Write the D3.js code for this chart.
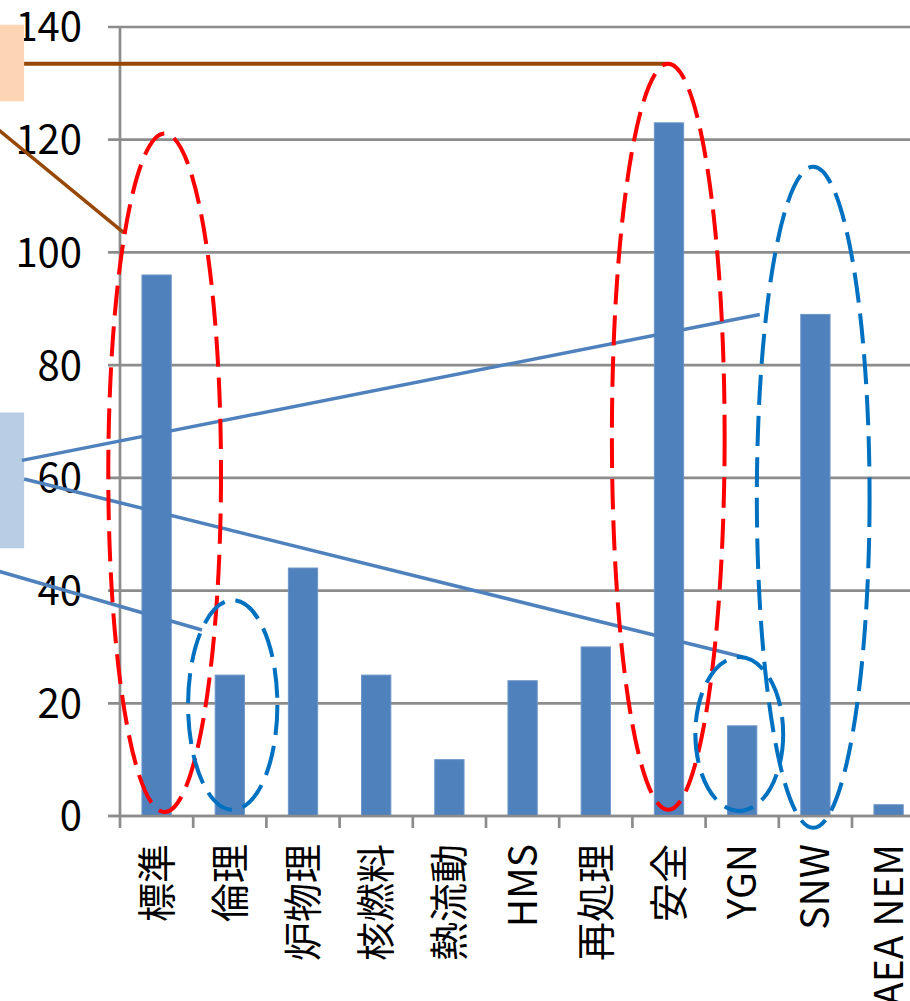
<!DOCTYPE html>
<html>
<head>
<meta charset="utf-8">
<script src="https://cdn.jsdelivr.net/npm/d3@7"></script>
<style>
  body { margin: 0; background: #fff; }
  text { font-family: "Noto Sans CJK JP", "Liberation Sans", sans-serif; }
</style>
</head>
<body>
<div id="chart"></div>
<script>
// categories and counts
var categories = ["標準", "倫理", "炉物理", "核燃料", "熱流動", "HMS", "再処理", "安全", "YGN", "SNW", "AEA NEM"];
var values = [96, 25, 44, 25, 10, 24, 30, 123, 16, 89, 2];
var yTicks = [0, 20, 40, 60, 80, 100, 120, 140];

// callout overlays, in (category index, value) units
var ellipses = [
    { cx: 0.61, top: 121.1, bottom: 0.7, rx: 0.77, color: "#FF0000" },
    { cx: 7.49, top: 133.5, bottom: 1.1, rx: 0.77, color: "#FF0000" },
    { cx: 1.54, top: 38.3, bottom: 1.1, rx: 0.61, color: "#0070C0" },
    { cx: 8.46, top: 28.2, bottom: 0.9, rx: 0.60, color: "#0070C0" },
    { cx: 9.47, top: 115.2, bottom: -2.1, rx: 0.77, color: "#0070C0" }
];
var boxes = [
    { x0: -1.7, x1: -1.31, top: 140.4, bottom: 126.8, color: "#FCD5B5" },
    { x0: -1.7, x1: -1.31, top: 71.6, bottom: 47.5, color: "#B9CDE5" }
];
var connectors = [
    { x0: -1.31, y0: 133.5, x1: 7.49, y1: 133.5, color: "#974806", w: 4 },
    { x0: -1.7, y0: 122.2, x1: 0.05, y1: 103.5, color: "#974806", w: 3.5 },
    { x0: -1.34, y0: 63.1, x1: 8.74, y1: 89.0, color: "#4F81BD", w: 3.5 },
    { x0: -1.31, y0: 59.8, x1: 8.51, y1: 28.2, color: "#4F81BD", w: 3.5 },
    { x0: -1.7, y0: 43.6, x1: 1.12, y1: 33.0, color: "#4F81BD", w: 3.5 }
];

var chartW = 910, chartH = 1001;
var plotLeft = 120, step = 73.2;
var plotBottom = 816, plotTop = 27;

var svg = d3.select("#chart")
    .append("svg")
    .attr("width", chartW)
    .attr("height", chartH);

var x = d3.scaleBand()
    .domain(categories)
    .range([plotLeft, plotLeft + step * categories.length])
    .paddingInner(0.6)
    .paddingOuter(0.3);

// continuous position along the category axis, for overlays
var xPos = d3.scaleLinear()
    .domain([0, categories.length])
    .range([plotLeft, plotLeft + step * categories.length]);

var y = d3.scaleLinear()
    .domain([0, 140])
    .range([plotBottom, plotTop]);

// gridlines
svg.append("g")
    .selectAll("line")
    .data(yTicks)
    .enter()
    .append("line")
    .attr("x1", plotLeft - 12)
    .attr("x2", chartW)
    .attr("y1", function (d) { return y(d); })
    .attr("y2", function (d) { return y(d); })
    .attr("stroke", "#8c8c8c")
    .attr("stroke-width", 2.7);

// y labels
svg.append("g")
    .selectAll("text")
    .data(yTicks)
    .enter()
    .append("text")
    .attr("x", 82)
    .attr("y", function (d) { return y(d); })
    .attr("dy", "0.36em")
    .attr("text-anchor", "end")
    .attr("font-size", 40)
    .attr("fill", "#000")
    .text(function (d) { return d; });

// y axis line
svg.append("line")
    .attr("x1", plotLeft).attr("x2", plotLeft)
    .attr("y1", y(0)).attr("y2", y(140))
    .attr("stroke", "#8c8c8c")
    .attr("stroke-width", 2.7);

// x tick marks
svg.append("g")
    .selectAll("line")
    .data(d3.range(categories.length + 1))
    .enter()
    .append("line")
    .attr("x1", function (d) { return xPos(d); })
    .attr("x2", function (d) { return xPos(d); })
    .attr("y1", y(0))
    .attr("y2", y(0) + 12)
    .attr("stroke", "#8c8c8c")
    .attr("stroke-width", 2.7);

// bars
svg.append("g")
    .selectAll("rect")
    .data(values)
    .enter()
    .append("rect")
    .attr("x", function (d, i) { return x(categories[i]); })
    .attr("y", function (d) { return y(d); })
    .attr("width", x.bandwidth())
    .attr("height", function (d) { return y(0) - y(d); })
    .attr("fill", "#4F81BD")
    .attr("stroke", "#6d95c8")
    .attr("stroke-width", 1);

// x axis line
svg.append("line")
    .attr("x1", plotLeft - 12).attr("x2", chartW)
    .attr("y1", y(0)).attr("y2", y(0))
    .attr("stroke", "#8c8c8c")
    .attr("stroke-width", 2.7);

// category labels, rotated
svg.append("g")
    .selectAll("text")
    .data(categories)
    .enter()
    .append("text")
    .attr("transform", function (d) {
        return "translate(" + (x(d) + x.bandwidth() / 2) + "," + (y(0) + 28) + ") rotate(-90)";
    })
    .attr("dy", "0.36em")
    .attr("text-anchor", "end")
    .attr("font-size", 39)
    .attr("fill", "#000")
    .text(function (d) { return d; });

// callout boxes
svg.append("g")
    .selectAll("rect")
    .data(boxes)
    .enter()
    .append("rect")
    .attr("x", function (d) { return xPos(d.x0); })
    .attr("y", function (d) { return y(d.top); })
    .attr("width", function (d) { return xPos(d.x1) - xPos(d.x0); })
    .attr("height", function (d) { return y(d.bottom) - y(d.top); })
    .attr("fill", function (d) { return d.color; });

// connector lines
svg.append("g")
    .selectAll("line")
    .data(connectors)
    .enter()
    .append("line")
    .attr("x1", function (d) { return xPos(d.x0); })
    .attr("y1", function (d) { return y(d.y0); })
    .attr("x2", function (d) { return xPos(d.x1); })
    .attr("y2", function (d) { return y(d.y1); })
    .attr("stroke", function (d) { return d.color; })
    .attr("stroke-width", function (d) { return d.w; });

// dashed ellipses
svg.append("g")
    .selectAll("ellipse")
    .data(ellipses)
    .enter()
    .append("ellipse")
    .attr("cx", function (d) { return xPos(d.cx); })
    .attr("cy", function (d) { return (y(d.top) + y(d.bottom)) / 2; })
    .attr("rx", function (d) { return xPos(d.rx) - xPos(0); })
    .attr("ry", function (d) { return (y(d.bottom) - y(d.top)) / 2; })
    .attr("fill", "none")
    .attr("stroke", function (d) { return d.color; })
    .attr("stroke-width", 4)
    .attr("stroke-dasharray", "30,11");
</script>
</body>
</html>
